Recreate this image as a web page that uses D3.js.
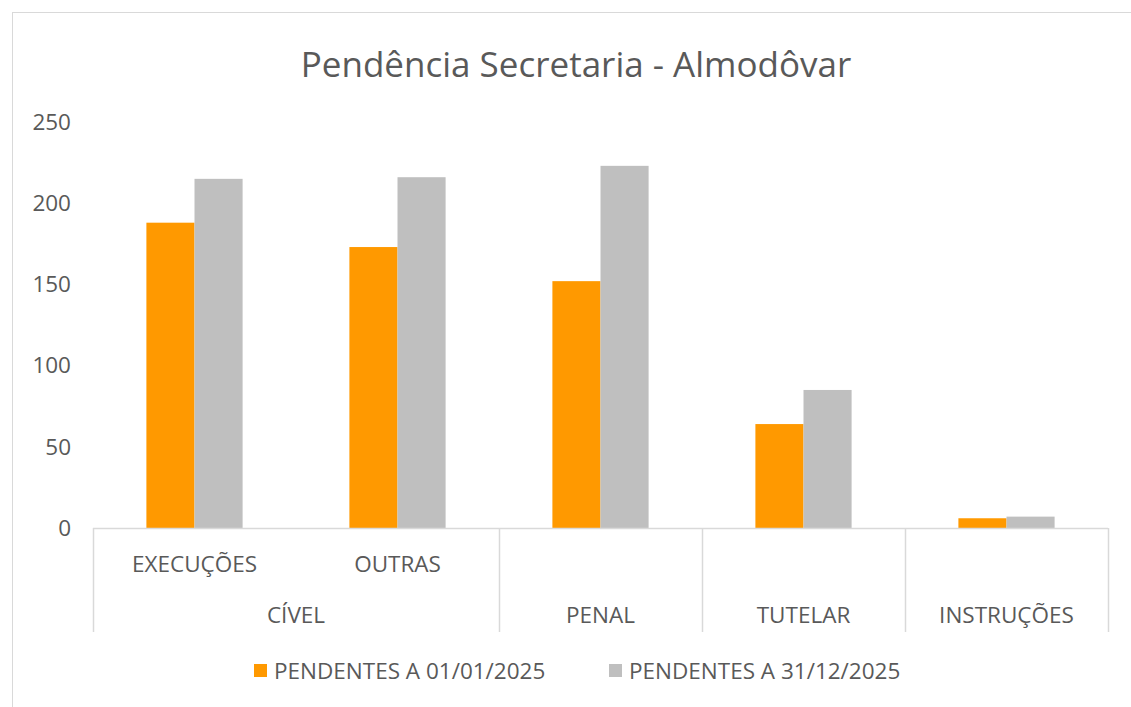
<!DOCTYPE html>
<html>
<head>
<meta charset="utf-8">
<script src="https://cdn.jsdelivr.net/npm/d3@7"></script>
<style>
  body { margin: 0; background: #fff; }
  text { font-family: "Open Sans", "Liberation Sans", sans-serif; fill: #595959; }
</style>
</head>
<body>
<script>
// data
const subLabels = ['EXECUÇÕES', 'OUTRAS', '', '', ''];
const groupLabels = ['CÍVEL', 'CÍVEL', 'PENAL', 'TUTELAR', 'INSTRUÇÕES'];
const seriesNames = ['PENDENTES A 01/01/2025', 'PENDENTES A 31/12/2025'];
const pendentesInicio = [188, 173, 152, 64, 6];
const pendentesFim = [215, 216, 223, 85, 7];
const yTicks = [0, 50, 100, 150, 200, 250];
const colors = ['#FF9900', '#BFBFBF'];

const W = 1131;
const H = 707;
const margin = { top: 122, right: 23, bottom: 179, left: 93 };
const width = W - margin.left - margin.right;
const height = H - margin.top - margin.bottom;
const labelSize = '22.5px';

const keys = d3.range(groupLabels.length);

const svg = d3.select('body')
  .append('svg')
    .attr('width', W)
    .attr('height', H);

// chart frame
svg.append('rect')
  .attr('x', 12.5)
  .attr('y', 12.5)
  .attr('width', W)
  .attr('height', H)
  .attr('fill', 'none')
  .attr('stroke', '#D9D9D9');

svg.append('text')
  .attr('x', 576)
  .attr('y', 77)
  .attr('text-anchor', 'middle')
  .style('font-size', '35px')
  .text('Pendência Secretaria - Almodôvar');

const g = svg.append('g')
  .attr('transform', `translate(${margin.left}, ${margin.top})`);

const x = d3.scaleBand().domain(keys).range([0, width]);
const xs = d3.scaleBand().domain([0, 1]).range([0, x.bandwidth()]).paddingInner(0).paddingOuter(1.11);
const y = d3.scaleLinear().domain([0, 250]).range([height, 0]);

// y axis labels
const yAxis = d3.axisLeft(y).tickValues(yTicks).tickSize(0).tickPadding(22);
g.append('g')
  .attr('class', 'axis-y')
  .call(yAxis)
  .call(s => s.select('.domain').remove())
  .selectAll('text')
    .style('font-size', labelSize)
    .style('font-family', '"Open Sans", sans-serif')
    .attr('fill', '#595959');

const series = [pendentesInicio, pendentesFim];
series.forEach((vals, si) => {
  g.selectAll(`.bar-${si}`)
    .data(keys)
    .enter()
    .append('rect')
      .attr('class', `bar-${si}`)
      .attr('x', k => x(k) + xs(si))
      .attr('width', xs.bandwidth())
      .attr('y', k => y(vals[k]))
      .attr('height', k => height - y(vals[k]))
      .attr('fill', colors[si]);
});

// category axis line
g.append('line')
  .attr('x1', 0).attr('x2', width)
  .attr('y1', height + 0.5).attr('y2', height + 0.5)
  .attr('stroke', '#D9D9D9')
  .attr('stroke-width', 1.5);

// group separators (skip inside a group)
const tickLen = 104;
const bounds = [0];
keys.forEach(k => {
  if (k === keys.length - 1 || groupLabels[k] !== groupLabels[k + 1]) bounds.push(x(k) + x.bandwidth());
});
g.selectAll('.sep')
  .data(bounds)
  .enter()
  .append('line')
    .attr('class', 'sep')
    .attr('x1', d => Math.round(d) + 0.5)
    .attr('x2', d => Math.round(d) + 0.5)
    .attr('y1', height)
    .attr('y2', height + tickLen)
    .attr('stroke', '#D9D9D9')
    .attr('stroke-width', 1.5);

// sub labels
g.selectAll('.sub')
  .data(keys.filter(k => subLabels[k]))
  .enter()
  .append('text')
    .attr('x', k => x(k) + x.bandwidth() / 2)
    .attr('y', height + 44)
    .attr('text-anchor', 'middle')
    .style('font-size', labelSize)
    .text(k => subLabels[k]);

// group labels
const groups = d3.groups(keys, k => groupLabels[k]);
g.selectAll('.grp')
  .data(groups)
  .enter()
  .append('text')
    .attr('x', d => (x(d[1][0]) + x(d[1][d[1].length - 1]) + x.bandwidth()) / 2)
    .attr('y', height + 95)
    .attr('text-anchor', 'middle')
    .style('font-size', labelSize)
    .text(d => d[0]);

// legend
const legendX = [254, 609];
const legend = svg.selectAll('.legend')
  .data(seriesNames)
  .enter()
  .append('g')
    .attr('transform', (d, i) => `translate(${legendX[i]}, 664)`);
legend.append('rect')
  .attr('width', 13)
  .attr('height', 13)
  .attr('fill', (d, i) => colors[i]);
legend.append('text')
  .attr('x', 20)
  .attr('y', 15)
  .style('font-size', labelSize)
  .text(d => d);
</script>
</body>
</html>
